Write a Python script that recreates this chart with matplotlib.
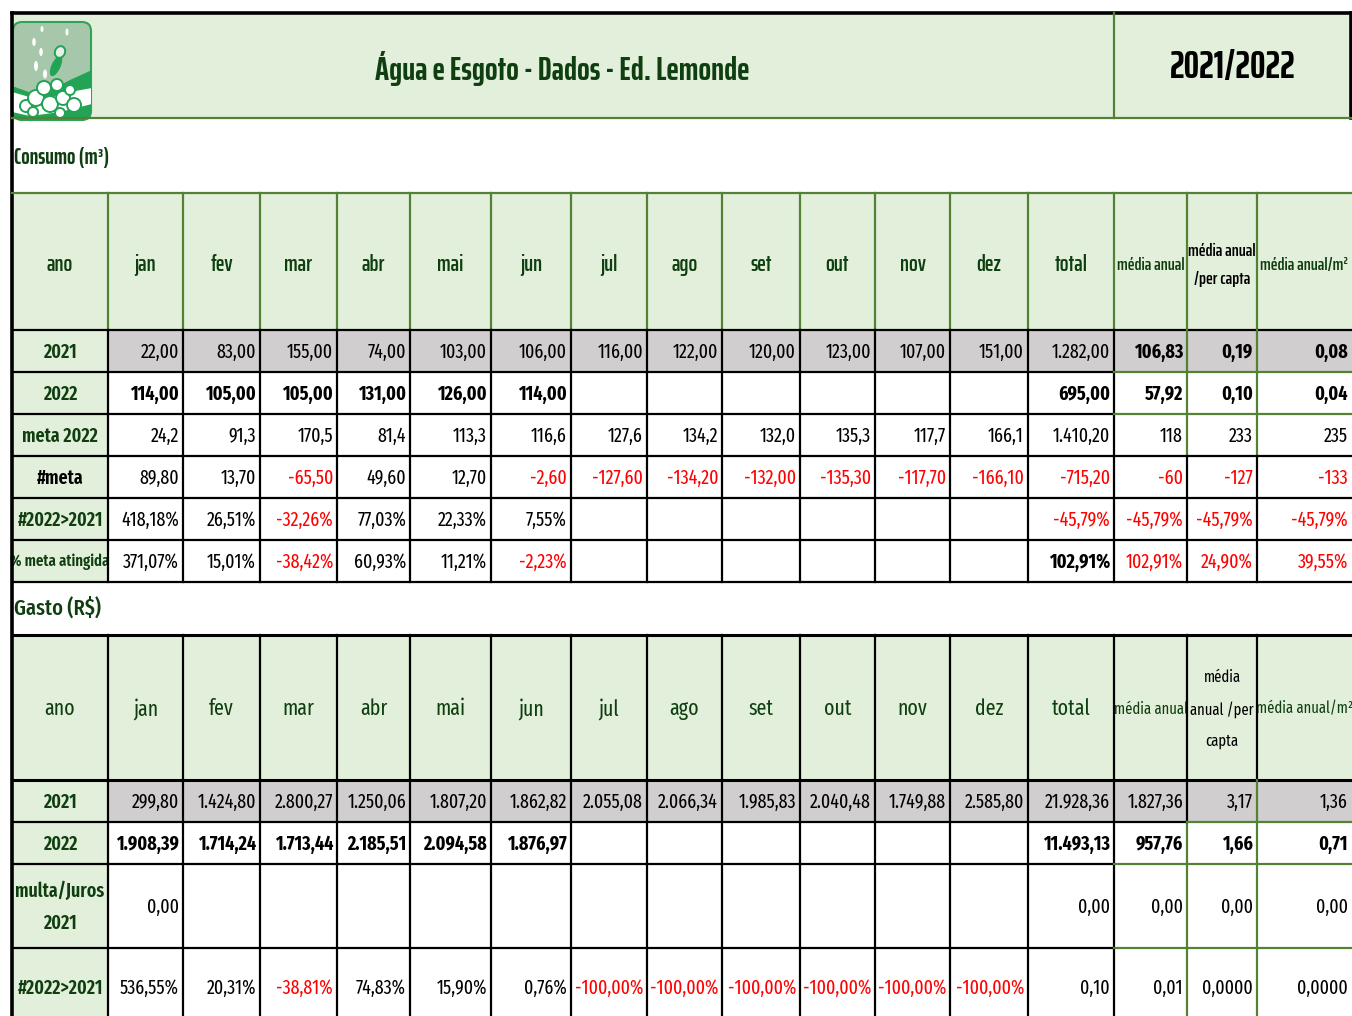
import matplotlib.pyplot as plt
from matplotlib import font_manager
from matplotlib.patches import Rectangle, FancyBboxPatch, Circle, Ellipse, Polygon

installed = {f.name for f in font_manager.fontManager.ttflist}


def pick(*names):
    for n in names:
        if n in installed:
            return n
    return 'DejaVu Sans'


BODY = pick('Fira Sans Extra Condensed', 'Roboto Condensed')
HEAD = pick('Saira ExtraCondensed', 'Fira Sans Extra Condensed', 'Roboto Condensed')
SCALE = 1.0 if BODY != 'DejaVu Sans' else 0.65
plt.rcParams['font.family'] = [BODY, 'DejaVu Sans']
plt.rcParams['font.stretch'] = 'condensed'

DARK_GREEN = '#0F3F10'
LINE_GREEN = '#548235'
LIGHT_GREEN = '#E2EFDA'
GREY = '#D0CECE'
RED = '#FF0000'

title = 'Água e Esgoto - Dados - Ed. Lemonde'
period = '2021/2022'
months = ['jan', 'fev', 'mar', 'abr', 'mai', 'jun', 'jul', 'ago', 'set', 'out', 'nov', 'dez']
header_consumo = ['ano'] + months + ['total', 'média anual', 'média anual\n/per capta', 'média anual/m²']
header_gasto = ['ano'] + months + ['total', 'média anual', 'média\nanual /per\ncapta', 'média anual/m²']

# consumo (m3)
c_labels = ['2021', '2022', 'meta 2022', '#meta', '#2022>2021', '% meta atingida']
c_2021 = ['22,00', '83,00', '155,00', '74,00', '103,00', '106,00', '116,00', '122,00', '120,00', '123,00',
          '107,00', '151,00', '1.282,00', '106,83', '0,19', '0,08']
c_2022 = ['114,00', '105,00', '105,00', '131,00', '126,00', '114,00', '', '', '', '', '', '',
          '695,00', '57,92', '0,10', '0,04']
c_meta = ['24,2', '91,3', '170,5', '81,4', '113,3', '116,6', '127,6', '134,2', '132,0', '135,3', '117,7', '166,1',
          '1.410,20', '118', '233', '235']
c_dif_meta = ['89,80', '13,70', '-65,50', '49,60', '12,70', '-2,60', '-127,60', '-134,20', '-132,00', '-135,30',
              '-117,70', '-166,10', '-715,20', '-60', '-127', '-133']
c_var = ['418,18%', '26,51%', '-32,26%', '77,03%', '22,33%', '7,55%', '', '', '', '', '', '',
         '-45,79%', '-45,79%', '-45,79%', '-45,79%']
c_pct = ['371,07%', '15,01%', '-38,42%', '60,93%', '11,21%', '-2,23%', '', '', '', '', '', '',
         '102,91%', '102,91%', '24,90%', '39,55%']

# gasto (R$)
g_labels = ['2021', '2022', 'multa/Juros\n2021', '#2022>2021']
g_2021 = ['299,80', '1.424,80', '2.800,27', '1.250,06', '1.807,20', '1.862,82', '2.055,08', '2.066,34',
          '1.985,83', '2.040,48', '1.749,88', '2.585,80', '21.928,36', '1.827,36', '3,17', '1,36']
g_2022 = ['1.908,39', '1.714,24', '1.713,44', '2.185,51', '2.094,58', '1.876,97', '', '', '', '', '', '',
          '11.493,13', '957,76', '1,66', '0,71']
g_multa = ['0,00', '', '', '', '', '', '', '', '', '', '', '', '0,00', '0,00', '0,00', '0,00']
g_var = ['536,55%', '20,31%', '-38,81%', '74,83%', '15,90%', '0,76%', '-100,00%', '-100,00%', '-100,00%',
         '-100,00%', '-100,00%', '-100,00%', '0,10', '0,01', '0,0000', '0,0000']

# layout (pixels)
col_x = [12, 108, 183, 260, 337, 410, 491, 571, 647, 722, 800, 875, 950, 1028, 1114, 1187, 1257, 1352]
c_rows = [330, 372, 414, 456, 498, 540, 582]
g_rows = [780, 822, 864, 948, 1026]

fig = plt.figure(figsize=(13.52, 10.16), dpi=100)
ax = fig.add_axes([0, 0, 1, 1])
ax.set_xlim(0, 1352)
ax.set_ylim(1016, 0)
ax.axis('off')


def box(x0, x1, y0, y1, color):
    ax.add_patch(Rectangle((x0, y0), x1 - x0, y1 - y0, fc=color, ec='none', zorder=0))


def hline(y, x0, x1, color='black', lw=1.6):
    ax.plot([x0, x1], [y, y], color=color, lw=lw, solid_capstyle='projecting', zorder=3)


def vline(x, y0, y1, color='black', lw=1.6):
    ax.plot([x, x], [y0, y1], color=color, lw=lw, solid_capstyle='projecting', zorder=3)


def value(i, yc, s, bold=False, red=False, size=14):
    if not s:
        return
    color = RED if (red or s.startswith('-')) else 'black'
    ax.text(col_x[i + 2] - 4, yc + 1, s, ha='right', va='center', fontsize=size * SCALE,
            fontweight='bold' if bold else 'normal', color=color, zorder=4)


# title band
box(12, 1352, 13, 118, LIGHT_GREEN)
ax.text(562, 68, title, ha='center', va='center', fontsize=24 * SCALE, fontweight='bold',
        color=DARK_GREEN, family=[HEAD, 'DejaVu Sans'])
ax.text(1233, 68, period, ha='center', va='center', fontsize=28 * SCALE, fontweight='bold',
        color='black', family=[HEAD, 'DejaVu Sans'])

# logo
lg = FancyBboxPatch((13, 22), 78, 98, boxstyle='round,pad=0,rounding_size=9',
                    fc='#A7C7AB', ec='#2FA35A', lw=1.5, zorder=1)
ax.add_patch(lg)
logo_parts = [
    Polygon([(12, 86), (40, 96), (70, 80), (92, 70), (92, 122), (12, 122)], fc='#22A355', ec='none'),
    Polygon([(12, 92), (40, 100), (70, 92), (92, 88), (92, 104), (60, 112), (30, 116), (12, 112)],
            fc='white', ec='none'),
]
for c in [(26, 106, 6), (36, 98, 8), (50, 104, 8), (63, 98, 7), (74, 105, 7), (44, 88, 7),
          (57, 85, 6), (33, 112, 5), (60, 113, 5), (70, 90, 5)]:
    logo_parts.append(Circle((c[0], c[1]), c[2], fc='white', ec='#22A355', lw=1.4))
logo_parts.append(Ellipse((56, 66), 9, 22, angle=25, fc='#22A355', ec='none'))
logo_parts.append(Ellipse((60, 52), 10, 12, angle=25, fc='#E5F2E7', ec='#22A355', lw=1.4))
for d in [(34, 42, 3.5, 8), (42, 29, 3, 6), (67, 32, 3, 7), (41, 52, 3.5, 8), (36, 66, 4, 10), (45, 74, 4, 9)]:
    logo_parts.append(Ellipse((d[0], d[1]), d[2], d[3], fc='white', ec='none'))
for p in logo_parts:
    p.set_zorder(2)
    ax.add_patch(p)
    p.set_clip_path(lg)

# section labels
ax.text(14, 158, 'Consumo (m³)', ha='left', va='center', fontsize=16 * SCALE, fontweight='bold',
        color=DARK_GREEN, family=[HEAD, 'DejaVu Sans'])
ax.text(14, 608, 'Gasto (R$)', ha='left', va='center', fontsize=16 * SCALE, fontweight='medium',
        color=DARK_GREEN)

# ---- consumo table
box(12, 1352, 193, 330, LIGHT_GREEN)
for i, h in enumerate(header_consumo):
    x0, x1 = col_x[i], col_x[i + 1]
    ax.text((x0 + x1) / 2, 265, h, ha='center', va='center', fontsize=(13 if i >= 14 else 16.5) * SCALE,
            fontweight='semibold', color='black' if i == 15 else DARK_GREEN, linespacing=1.95,
            family=[HEAD, 'DejaVu Sans'])

c_table = [c_2021, c_2022, c_meta, c_dif_meta, c_var, c_pct]
for r, (lab, vals) in enumerate(zip(c_labels, c_table)):
    y0, y1 = c_rows[r], c_rows[r + 1]
    box(12, 108, y0, y1, LIGHT_GREEN)
    if r == 0:
        box(108, 1352, y0, y1, GREY)
    ax.text(60, (y0 + y1) / 2 + 1, lab, ha='center', va='center', fontweight='semibold',
            fontsize=(11.5 if len(lab) > 12 else 14) * SCALE, color='black' if lab == '#meta' else DARK_GREEN)
    for i, s in enumerate(vals):
        bold = (r == 0 and i >= 13) or r == 1 or (r == 5 and i == 12)
        red = r == 5 and i >= 13
        value(i, (y0 + y1) / 2, s, bold=bold, red=red)

# ---- gasto table
box(12, 1352, 635, 780, LIGHT_GREEN)
for i, h in enumerate(header_gasto):
    x0, x1 = col_x[i], col_x[i + 1]
    ax.text((x0 + x1) / 2, 709, h, ha='center', va='center', fontsize=(11.5 if i >= 14 else 15.5) * SCALE,
            color='black' if i == 15 else DARK_GREEN, linespacing=2.2)

g_table = [g_2021, g_2022, g_multa, g_var]
for r, (lab, vals) in enumerate(zip(g_labels, g_table)):
    y0, y1 = g_rows[r], g_rows[r + 1]
    yc = (y0 + y1) / 2 if r < 3 else 987
    box(12, 108, y0, y1, LIGHT_GREEN)
    if r == 0:
        box(108, 1352, y0, y1, GREY)
    ax.text(60, yc + 1, lab, ha='center', va='center', fontweight='semibold', fontsize=14 * SCALE,
            color=DARK_GREEN, linespacing=1.8)
    for i, s in enumerate(vals):
        value(i, yc, s, bold=(r == 1))

# ---- grid lines
hline(13, 12, 1352, lw=2.6)
vline(12, 13, 1016, lw=2.6)
vline(1351, 13, 118, lw=2.6)
vline(1114, 13, 118, LINE_GREEN)
hline(118, 12, 1352, LINE_GREEN)
hline(193, 12, 1352, LINE_GREEN)
for x in col_x[1:-1]:
    vline(x, 193, 330, LINE_GREEN)
hline(330, 12, 1352)
for x in col_x[1:-1]:
    if x in (1187, 1257):
        vline(x, 330, 456, LINE_GREEN)
        vline(x, 456, 582)
    else:
        vline(x, 330, 582)
for y in c_rows[1:]:
    if y in (372, 414):
        hline(y, 12, 1114)
        hline(y, 1114, 1352, LINE_GREEN)
    else:
        hline(y, 12, 1352)

hline(635, 12, 1352, lw=2.2)
for x in col_x[1:-1]:
    vline(x, 635, 780)
hline(780, 12, 1352, lw=2.2)
for x in col_x[1:-1]:
    if x == 1187:
        vline(x, 780, 822)
        vline(x, 822, 1016, LINE_GREEN)
    elif x == 1257:
        vline(x, 780, 1016, LINE_GREEN)
    else:
        vline(x, 780, 1016)
hline(822, 12, 1187)
hline(822, 1187, 1352, LINE_GREEN)
for y in (864, 948):
    hline(y, 12, 1114)
    hline(y, 1114, 1352, LINE_GREEN)

fig.savefig('out.png', dpi=100)
